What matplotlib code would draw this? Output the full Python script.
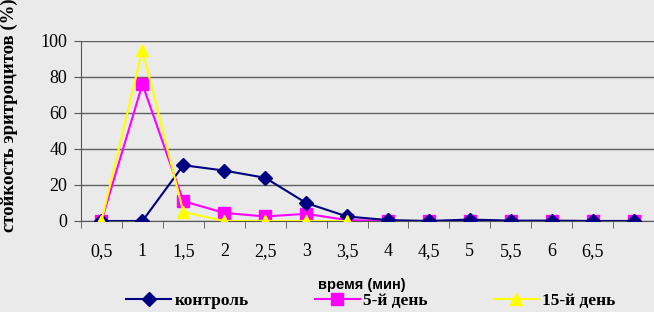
import matplotlib.pyplot as plt

categories = ["0,5", "1", "1,5", "2", "2,5", "3", "3,5", "4", "4,5", "5", "5,5", "6", "6,5", ""]
control = [0, 0, 31, 28, 24, 10, 2.5, 0.5, 0, 0.8, 0.2, 0.2, 0, 0]
day5 = [0, 76, 11, 4.5, 2.5, 4, 0.5, 0, 0, 0, 0, 0, 0, 0]
day15 = [0, 95, 5, 0, 0, 0, 0]
yticks = [0, 20, 40, 60, 80, 100]

bg = "#eaeaea"
serif = ["Liberation Serif", "DejaVu Serif"]

fig = plt.figure(figsize=(6.54, 3.12), dpi=100, facecolor=bg)
ax = fig.add_axes([0.1239, 0.2917, 0.8761, 0.5769], facecolor=bg)

ax.plot(range(len(control)), control, color="#000080", marker="D", markersize=7, lw=1.5,
        label="контроль", zorder=3)
ax.plot(range(len(day5)), day5, color="#ff00ff", marker="s", markersize=8, lw=1.5,
        label="5-й день", zorder=2)
ax.plot(range(len(day15)), day15, color="#ffff00", marker="^", markersize=8, lw=1.5,
        label="15-й день", zorder=4)

ax.set_xlim(-0.5, len(categories) - 0.5)
ax.set_ylim(0, 100)
ax.set_yticks(yticks)
ax.set_yticklabels([str(v) for v in yticks], fontfamily=serif, fontsize=13)
ax.set_xticks(range(len(categories)))
ax.set_xticklabels(categories, fontfamily=serif, fontsize=13)
ax.tick_params(axis="x", length=0, pad=16)
ax.set_xticks([i - 0.5 for i in range(len(categories) + 1)], minor=True)
ax.tick_params(axis="x", which="minor", length=5, direction="out", color="#555555")
ax.tick_params(axis="y", length=5, pad=5, color="#555555")

ax.grid(axis="y", color="#606060", lw=1)
ax.set_axisbelow(True)
for s in ["top", "right"]:
    ax.spines[s].set_visible(False)
ax.spines["left"].set_color("#555555")
ax.spines["bottom"].set_color("#555555")

fig.text(0.015, 0.63, "стойкость эритроцитов (%)", rotation=90, ha="center", va="center",
         fontfamily=serif, fontweight="bold", fontsize=13.5)
fig.text(0.553, 0.085, "время (мин)", ha="center", va="center",
         fontfamily=["Liberation Sans", "DejaVu Sans"], fontweight="bold", fontsize=10.5)

fig.legend(loc="center", bbox_to_anchor=(0.567, 0.035), ncol=3, frameon=False,
           prop={"family": serif, "weight": "bold", "size": 12.5},
           handlelength=2.6, columnspacing=3.8, handletextpad=0.2)

fig.savefig("out.png", dpi=100, facecolor=bg)
